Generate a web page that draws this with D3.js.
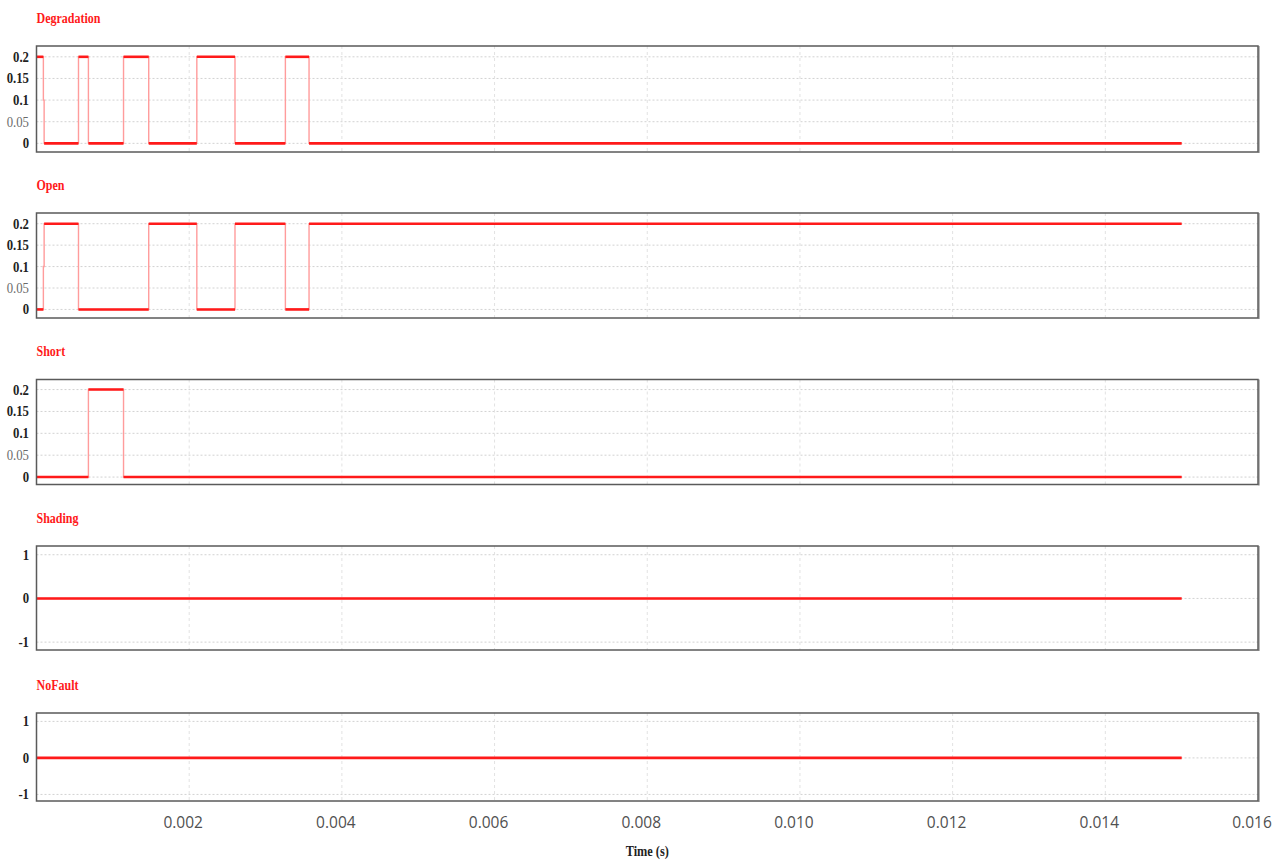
<!DOCTYPE html>
<html>
<head>
<meta charset="utf-8">
<script src="https://cdn.jsdelivr.net/npm/d3@7"></script>
<style>
  html, body { margin: 0; padding: 0; background: #fff; }
  svg { display: block; }
</style>
</head>
<body>
<svg id="chart" width="1284" height="864"></svg>
<script>
// Fault classifier outputs over simulation time: [time (s), value] change points (step-after)
const degradation = [[0, 0.2], [0.00009, 0.1], [0.0001, 0], [0.00055, 0.2], [0.00068, 0], [0.00114, 0.2], [0.00147, 0], [0.0021, 0.2], [0.0026, 0], [0.00326, 0.2], [0.00357, 0], [0.015, 0]];
const open        = [[0, 0], [0.00009, 0.1], [0.0001, 0.2], [0.00055, 0], [0.00147, 0.2], [0.0021, 0], [0.0026, 0.2], [0.00326, 0], [0.00357, 0.2], [0.015, 0.2]];
const short       = [[0, 0], [0.00068, 0.2], [0.00114, 0], [0.015, 0]];
const shading     = [[0, 0], [0.015, 0]];
const noFault     = [[0, 0], [0.015, 0]];

const panelTitles = ["Degradation", "Open", "Short", "Shading", "NoFault"];
const panelSeries = [degradation, open, short, shading, noFault];

const smallTicks = [0, 0.05, 0.1, 0.15, 0.2];
const smallTickLabels = ["0", "0.05", "0.1", "0.15", "0.2"];
const unitTicks = [-1, 0, 1];
const unitTickLabels = ["-1", "0", "1"];

const timeTicks = [0.002, 0.004, 0.006, 0.008, 0.010, 0.012, 0.014, 0.016];
const timeTickLabels = ["0.002", "0.004", "0.006", "0.008", "0.010", "0.012", "0.014", "0.016"];
const xLabel = "Time (s)";

// Layout
const left = 36.5, right = 1258;
const panels = [
  { top: 46,    bottom: 152,   domain: [-0.02, 0.225], ticks: smallTicks, labels: smallTickLabels },
  { top: 213,   bottom: 318,   domain: [-0.02, 0.225], ticks: smallTicks, labels: smallTickLabels },
  { top: 379.5, bottom: 484.5, domain: [-0.017, 0.223], ticks: smallTicks, labels: smallTickLabels },
  { top: 546,   bottom: 650,   domain: [-1.18, 1.2],   ticks: unitTicks,  labels: unitTickLabels },
  { top: 713,   bottom: 801,   domain: [-1.18, 1.23],  ticks: unitTicks,  labels: unitTickLabels }
];

const svg = d3.select("#chart");
const x = d3.scaleLinear().domain([0, 0.016]).range([left, right]);

const serif = "'Liberation Serif', 'Times New Roman', serif";

panels.forEach((p, i) => {
  const y = d3.scaleLinear().domain(p.domain).range([p.bottom, p.top]);
  const g = svg.append("g");

  // Title (condensed bold serif)
  g.append("text")
    .attr("transform", `translate(${left},${p.top - 23.5}) scale(0.8,1)`)
    .attr("font-family", serif)
    .attr("font-weight", "bold")
    .attr("font-size", 15)
    .attr("fill", "#ff1a1a")
    .text(panelTitles[i]);

  // Horizontal dotted grid
  g.selectAll("line.hgrid").data(p.ticks).join("line")
    .attr("class", "hgrid")
    .attr("x1", left).attr("x2", right)
    .attr("y1", d => y(d)).attr("y2", d => y(d))
    .attr("stroke", "#d2d2d2").attr("stroke-width", 1)
    .attr("stroke-dasharray", "2,2");

  // Vertical dashed grid
  g.selectAll("line.vgrid").data(timeTicks.slice(0, -1)).join("line")
    .attr("class", "vgrid")
    .attr("x1", d => x(d)).attr("x2", d => x(d))
    .attr("y1", p.top).attr("y2", p.bottom)
    .attr("stroke", "#e2e2e2").attr("stroke-width", 1)
    .attr("stroke-dasharray", "3,3");

  // Y tick labels
  g.selectAll("text.ytick").data(p.ticks).join("text")
    .attr("class", "ytick")
    .attr("transform", d => `translate(29,${y(d) + 5}) scale(0.85,1)`)
    .attr("text-anchor", "end")
    .attr("font-family", serif)
    .attr("font-size", 15)
    .attr("font-weight", (d, j) => p.labels[j] === "0.05" ? "normal" : "bold")
    .attr("fill", (d, j) => p.labels[j] === "0.05" ? "#6a6a6a" : "#222")
    .text((d, j) => p.labels[j]);

  const data = panelSeries[i];

  // Thin step trace (transitions)
  const line = d3.line().x(d => x(d[0])).y(d => y(d[1])).curve(d3.curveStepAfter);
  g.append("path")
    .attr("d", line(data))
    .attr("fill", "none")
    .attr("stroke", "#ff9c9c")
    .attr("stroke-width", 1.4);

  // Thick flat segments
  const flats = d3.pairs(data).filter(([a, b]) => b[0] - a[0] > 0.00002);
  g.selectAll("line.flat").data(flats).join("line")
    .attr("class", "flat")
    .attr("x1", d => x(d[0][0])).attr("x2", d => x(d[1][0]))
    .attr("y1", d => y(d[0][1])).attr("y2", d => y(d[0][1]))
    .attr("stroke", "#ff1a1a")
    .attr("stroke-width", 2.6);

  // Frame
  g.append("line")
    .attr("x1", right + 1).attr("x2", right + 1)
    .attr("y1", p.top).attr("y2", p.bottom + 1)
    .attr("stroke", "#b8b8b8").attr("stroke-width", 2);
  g.append("rect")
    .attr("x", left).attr("y", p.top)
    .attr("width", right - left).attr("height", p.bottom - p.top)
    .attr("fill", "none")
    .attr("stroke", "#5a5a5a").attr("stroke-width", 1.5);
});

// Time axis labels
svg.append("g").selectAll("text").data(timeTicks).join("text")
  .attr("x", d => x(d) - 6)
  .attr("y", 828)
  .attr("text-anchor", "middle")
  .attr("font-family", "'Open Sans', 'Noto Sans', sans-serif")
  .attr("font-size", 15.5)
  .attr("fill", "#505050")
  .text((d, j) => timeTickLabels[j]);

svg.append("text")
  .attr("transform", `translate(${x(0.008)},856) scale(0.85,1)`)
  .attr("text-anchor", "middle")
  .attr("font-family", serif)
  .attr("font-weight", "bold")
  .attr("font-size", 14.5)
  .attr("fill", "#222")
  .text(xLabel);
</script>
</body>
</html>
